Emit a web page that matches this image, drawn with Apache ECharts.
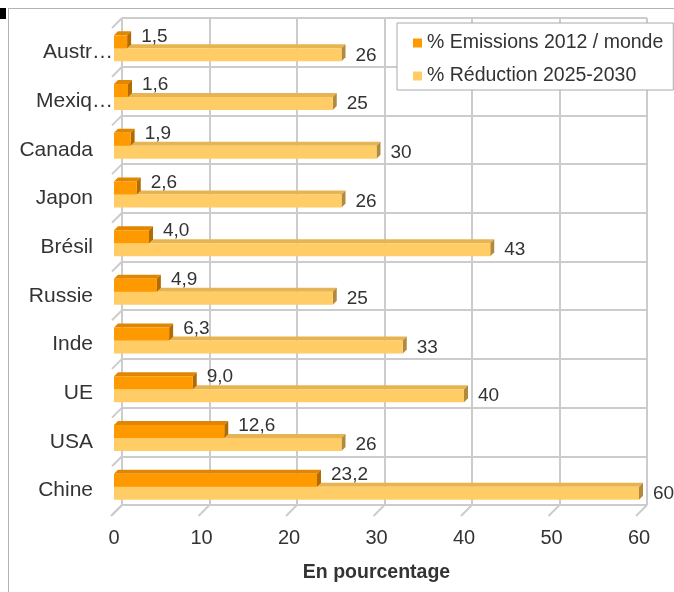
<!DOCTYPE html>
<html>
<head>
<meta charset="utf-8">
<script src="https://cdn.jsdelivr.net/npm/echarts@6/dist/echarts.min.js"></script>
<style>
html, body { margin: 0; padding: 0; background: #fff; }
#chart { width: 674px; height: 592px; }
</style>
</head>
<body>
<div id="chart"></div>
<script>
// pays, du bas vers le haut
var categories = ['Chine', 'USA', 'UE', 'Inde', 'Russie', 'Brésil', 'Japon', 'Canada', 'Mexiq…', 'Austr…']
var emissions = [23.2, 12.6, 9.0, 6.3, 4.9, 4.0, 2.6, 1.9, 1.6, 1.5]
var reduction = [60, 26, 40, 33, 25, 43, 26, 30, 25, 26]
var xTicks = [0, 10, 20, 30, 40, 50, 60]

var DEPTH = 8 // recul du mur du fond
var BAR_D = 4 // epaisseur 3D des barres
var FONT = 'Liberation Sans, Arial, sans-serif'
var GRID_COLOR = '#cccccc'

function toPairs(values) {
  return values.map(function (v, i) { return [v, i] })
}

function fmtDec(v) { return v.toFixed(1).replace('.', ',') }
function fmtInt(v) { return String(v) }

// barre avec face du dessus et cote droit
function makeBar(y0, y1, colors, fmt, labelDy) {
  return function (params, api) {
    var val = api.value(0)
    var cat = api.value(1)
    var start = api.coord([0, cat])
    var end = api.coord([val, cat])
    var yc = start[1]
    var x0 = start[0]
    var x1 = end[0]
    var top = yc + y0
    var bot = yc + y1
    return {
      type: 'group',
      children: [
        {
          type: 'polygon',
          shape: { points: [[x0, top], [x1, top], [x1 + BAR_D, top - BAR_D], [x0 + BAR_D, top - BAR_D]] },
          style: { fill: colors[1] }
        },
        {
          type: 'polygon',
          shape: { points: [[x1, top], [x1 + BAR_D, top - BAR_D], [x1 + BAR_D, bot - BAR_D], [x1, bot]] },
          style: { fill: colors[2] }
        },
        {
          type: 'rect',
          shape: { x: x0, y: top, width: x1 - x0, height: bot - top },
          style: { fill: colors[0] }
        },
        {
          type: 'text',
          x: x1 + 14,
          y: yc + labelDy,
          style: { text: fmt(val), fill: '#333', fontSize: 19, fontFamily: FONT, verticalAlign: 'middle' }
        }
      ]
    }
  }
}

// petits traits obliques entre le mur du fond et le plan avant
function renderFrame(params, api) {
  var band = api.size([0, 1])[1]
  var bottomY = api.coord([0, 0])[1] + band / 2
  var leftX = api.coord([0, 0])[0]
  var children = []
  var lineStyle = { stroke: GRID_COLOR, lineWidth: 2 }
  xTicks.forEach(function (v) {
    var x = api.coord([v, 0])[0]
    children.push({
      type: 'line',
      shape: { x1: x + DEPTH, y1: bottomY - DEPTH, x2: x - 3, y2: bottomY + 3 },
      style: lineStyle
    })
  })
  for (var i = 0; i <= categories.length; i++) {
    var y = bottomY - i * band
    children.push({
      type: 'line',
      shape: { x1: leftX + DEPTH, y1: y - DEPTH, x2: leftX - 2, y2: y + 2 },
      style: lineStyle
    })
  }
  return { type: 'group', children: children }
}

var chart = echarts.init(document.getElementById('chart'))

chart.setOption({
  animation: false,
  textStyle: { fontFamily: FONT },
  graphic: [
    { type: 'line', shape: { x1: 8, y1: 8.5, x2: 674, y2: 8.5 }, style: { stroke: '#b3b3b3', lineWidth: 1 } },
    { type: 'line', shape: { x1: 8.5, y1: 8, x2: 8.5, y2: 592 }, style: { stroke: '#b3b3b3', lineWidth: 1 } },
    { type: 'rect', shape: { x: 0, y: 8, width: 6, height: 11 }, style: { fill: '#000' } }
  ],
  legend: {
    data: ['% Emissions 2012 / monde', '% Réduction 2025-2030'],
    orient: 'vertical',
    left: 397,
    top: 23,
    padding: [10, 10, 4, 16],
    itemGap: 13,
    itemWidth: 9,
    itemHeight: 9,
    icon: 'rect',
    backgroundColor: '#fff',
    borderColor: '#aaaaaa',
    borderWidth: 1,
    textStyle: { fontSize: 19.5, color: '#333', fontFamily: FONT },
    z: 10
  },
  grid: [
    { left: 114, right: 35, top: 26, bottom: 79 },
    { left: 114 + DEPTH, right: 35 - DEPTH, top: 26 - DEPTH, bottom: 79 + DEPTH }
  ],
  xAxis: [
    {
      gridIndex: 0,
      type: 'value',
      min: 0,
      max: 60,
      interval: 10,
      axisLine: { show: false },
      axisTick: { show: false },
      splitLine: { show: false },
      axisLabel: { fontSize: 20, color: '#333', margin: 15 },
      name: 'En pourcentage',
      nameLocation: 'middle',
      nameGap: 50,
      nameTextStyle: { fontSize: 19.5, fontWeight: 'bold', color: '#333' }
    },
    {
      gridIndex: 1,
      type: 'value',
      min: 0,
      max: 60,
      interval: 10,
      axisLine: { show: false },
      axisTick: { show: false },
      axisLabel: { show: false },
      splitLine: { show: true, lineStyle: { color: GRID_COLOR, width: 2 } }
    }
  ],
  yAxis: [
    {
      gridIndex: 0,
      type: 'category',
      data: categories,
      axisLine: { show: false },
      axisTick: { show: false },
      axisLabel: {
        margin: 1,
        formatter: function (v) {
          // les libelles tronques debordent vers la droite
          return v.indexOf('…') >= 0 ? '{t|' + v + '}' : '{n|' + v + '}'
        },
        rich: {
          n: { fontSize: 21, color: '#333', fontFamily: FONT, padding: [4, 20, 0, 0] },
          t: { fontSize: 21, color: '#333', fontFamily: FONT, padding: [4, 0, 0, 0] }
        }
      }
    },
    {
      gridIndex: 1,
      type: 'category',
      data: categories,
      axisLine: { show: false },
      axisTick: { show: false },
      axisLabel: { show: false },
      splitLine: { show: true, lineStyle: { color: GRID_COLOR, width: 2 } }
    }
  ],
  series: [
    {
      name: 'cadre',
      type: 'custom',
      xAxisIndex: 0,
      yAxisIndex: 0,
      renderItem: renderFrame,
      data: [[0, 0]],
      encode: { x: 0, y: 1 },
      z: 1,
      silent: true
    },
    {
      name: '% Réduction 2025-2030',
      type: 'custom',
      xAxisIndex: 0,
      yAxisIndex: 0,
      itemStyle: { color: '#ffcc66' },
      renderItem: makeBar(-2, 11, ['#ffcc66', '#e6b450', '#b38a3c'], fmtInt, 5),
      data: toPairs(reduction),
      encode: { x: 0, y: 1 },
      z: 2
    },
    {
      name: '% Emissions 2012 / monde',
      type: 'custom',
      xAxisIndex: 0,
      yAxisIndex: 0,
      itemStyle: { color: '#ff9900' },
      renderItem: makeBar(-15, -2, ['#ff9900', '#e08600', '#b36b00'], fmtDec, -14),
      data: toPairs(emissions),
      encode: { x: 0, y: 1 },
      z: 3
    }
  ]
})
</script>
</body>
</html>
